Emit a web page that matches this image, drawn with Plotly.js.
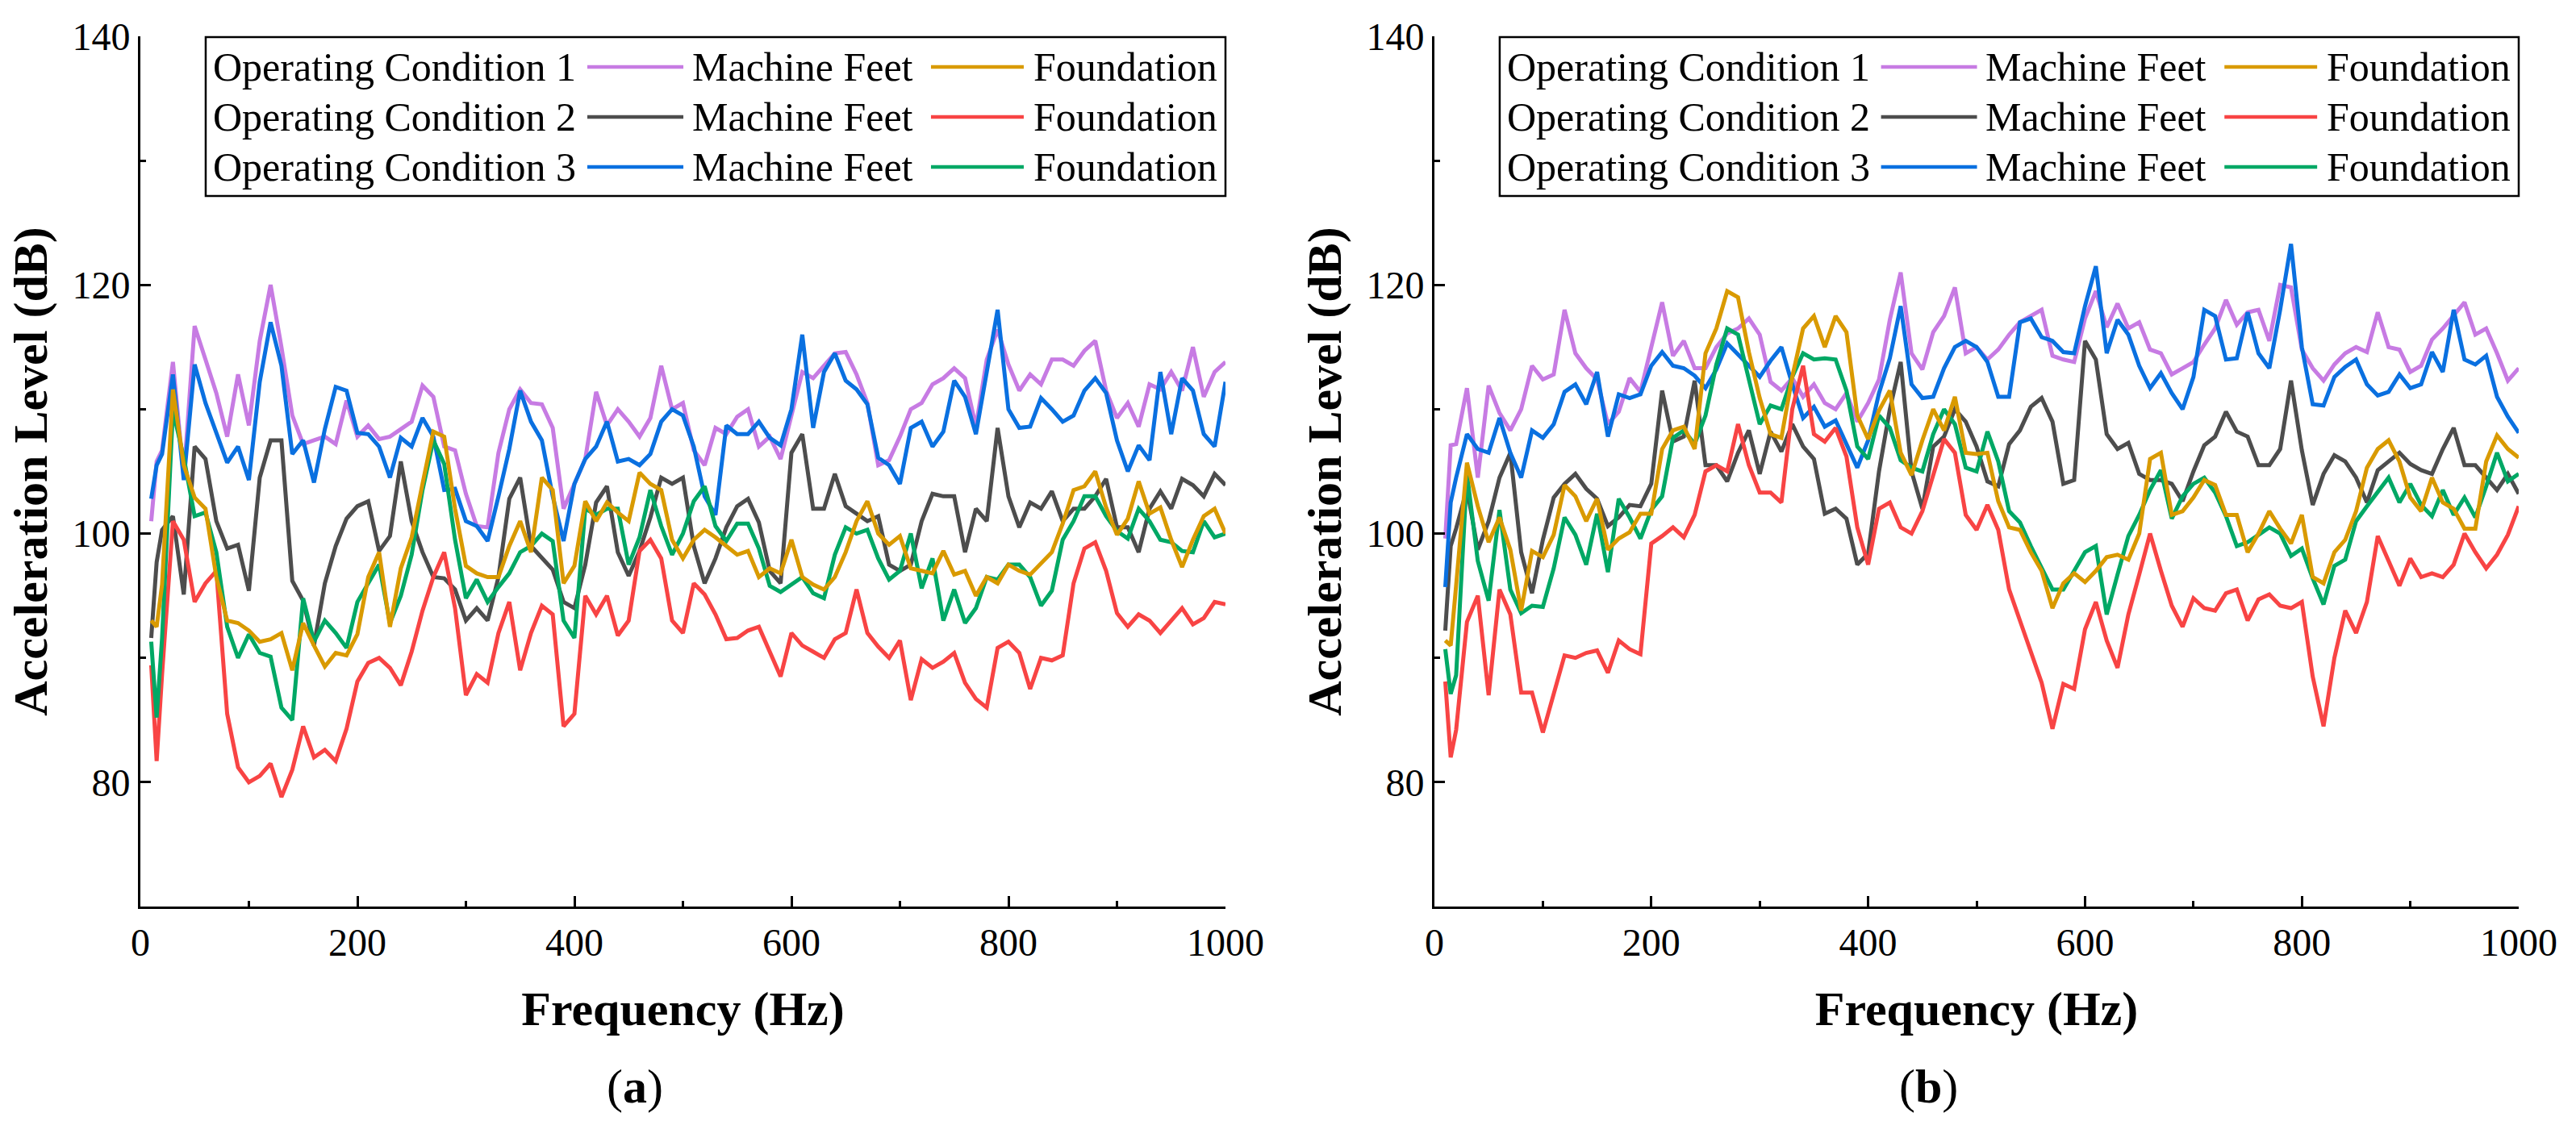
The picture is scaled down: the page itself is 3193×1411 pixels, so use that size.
<!DOCTYPE html>
<html>
<head>
<meta charset="utf-8">
<script src="https://cdn.plot.ly/plotly-3.0.1.min.js"></script>
<style>
  html, body { margin: 0; padding: 0; background: #fff; }
  #chart { width: 3193px; height: 1411px; }
</style>
</head>
<body>
<div id="chart"></div>
<script>
// Frequency grid (Hz) shared by every curve
const freq = [10, 15, 20, 30, 40, 50, 60, 70, 80, 90,
  100, 110, 120, 130, 140, 150, 160, 170, 180, 190,
  200, 210, 220, 230, 240, 250, 260, 270, 280, 290,
  300, 310, 320, 330, 340, 350, 360, 370, 380, 390,
  400, 410, 420, 430, 440, 450, 460, 470, 480, 490,
  500, 510, 520, 530, 540, 550, 560, 570, 580, 590,
  600, 610, 620, 630, 640, 650, 660, 670, 680, 690,
  700, 710, 720, 730, 740, 750, 760, 770, 780, 790,
  800, 810, 820, 830, 840, 850, 860, 870, 880, 890,
  900, 910, 920, 930, 940, 950, 960, 970, 980, 990, 1000];

// ---- panel (a) ----
const feetA1 = [101, 105.8, 106.7, 113.8, 104.6, 116.7, 114, 111.3, 107.8, 112.8,
  108.7, 115.5, 120, 115, 109.5, 107.2, 107.5, 107.8, 107.2, 110.7,
  107.8, 108.7, 107.6, 107.8, 108.4, 109, 111.9, 111, 107, 106.7,
  103.2, 100.6, 100.5, 106.5, 110, 111.6, 110.5, 110.4, 108.5, 102,
  104, 106, 111.4, 108.7, 110, 109, 107.8, 109.3, 113.5, 110,
  110.5, 106.7, 105.5, 108.5, 108, 109.4, 110, 107, 107.8, 106,
  109.5, 113, 112.5, 113.5, 114.5, 114.6, 112.8, 110.5, 105.5, 105.9,
  107.8, 110, 110.5, 112, 112.5, 113.3, 112.5, 108.6, 114, 116.4,
  113.6, 111.5, 112.8, 112, 114, 114, 113.5, 114.7, 115.5, 111.5,
  109.3, 110.5, 108.6, 112, 111.6, 113, 111.5, 115, 111, 113, 113.8];
const foundA1 = [93, 92.5, 95.9, 111.6, 105.5, 102.9, 102, 96.5, 93, 92.8,
  92.2, 91.3, 91.5, 92, 89, 92.8, 91, 89.3, 90.4, 90.2,
  91.9, 96.5, 98.5, 92.5, 97.2, 99.7, 104, 108.2, 107.8, 102,
  97.4, 96.8, 96.5, 96.5, 99, 101, 98.5, 104.5, 103.5, 96,
  97.4, 102.6, 101, 102.5, 101.7, 101, 104.9, 104, 103.5, 99.5,
  98, 99.5, 100.3, 99.7, 99, 98.3, 98.6, 96.5, 97.2, 96.8,
  99.5, 96.5, 95.9, 95.5, 96.5, 98.5, 101, 102.6, 100, 99.1,
  99.8, 97.2, 97, 96.8, 98.6, 96.7, 97, 95, 96.5, 96,
  97.5, 97, 96.7, 97.6, 98.5, 100.8, 103.5, 103.8, 105, 102.1,
  99.9, 101.2, 104.2, 101.6, 102.1, 99.5, 97.3, 99.5, 101.4, 102, 100];
const feetA2 = [91.6, 97.7, 100.3, 101.4, 95.1, 107, 106, 101, 98.8, 99.1,
  95.4, 104.5, 107.5, 107.5, 96.2, 94.6, 91, 96, 99, 101.2,
  102.2, 102.6, 98.6, 99.8, 105.8, 101, 98.5, 96.5, 96.4, 95.5,
  93, 94, 93, 96.5, 102.8, 104.5, 99, 98, 97.1, 94.5,
  94, 97.5, 102.5, 103.8, 98.5, 96.6, 98.6, 101.3, 104.5, 104,
  104.5, 99, 96, 98, 100.5, 102.2, 102.8, 100.9, 97, 96,
  106.5, 108, 102, 102, 104.8, 102.2, 101.6, 101, 101.4, 97.5,
  97, 97.5, 101, 103.2, 103, 103, 98.5, 102, 101, 108.5,
  103, 100.5, 102.5, 102, 103.4, 101, 102, 102, 103, 104.4,
  100.5, 100.5, 98.5, 102, 103.4, 102, 104.4, 103.9, 103, 104.8, 103.9];
const foundA2 = [89.4, 81.7, 88.7, 101, 99.5, 94.5, 96, 97, 85.5, 81.2,
  80, 80.5, 81.5, 78.8, 81, 84.5, 82, 82.6, 81.7, 84.3,
  88.1, 89.6, 90, 89.2, 87.8, 90.5, 93.8, 96.5, 98.5, 94,
  87, 88.7, 88, 92, 94.5, 89, 92, 94.2, 93.5, 84.5,
  85.5, 95, 93.5, 95, 91.8, 93, 98.6, 99.5, 98, 93,
  92, 96, 95.1, 93.5, 91.5, 91.6, 92.2, 92.5, 90.5, 88.5,
  92, 91, 90.5, 90, 91.5, 92, 95.5, 92, 90.9, 90,
  91.4, 86.6, 89.9, 89.2, 89.7, 90.4, 88, 86.7, 86, 90.8,
  91.3, 90.4, 87.5, 90, 89.8, 90.2, 96, 98.8, 99.3, 97,
  93.6, 92.5, 93.5, 93, 92, 93, 94, 92.7, 93.2, 94.5, 94.3];
const feetA3 = [102.8, 105.5, 106.4, 112.8, 104.3, 113.6, 110.5, 108.2, 105.7, 107,
  104.3, 112.2, 117, 113.5, 106.4, 107.5, 104.1, 108.4, 111.8, 111.5,
  108.1, 108, 107, 104.5, 107.7, 107, 109.3, 107.8, 103.5, 103.6,
  101, 100.6, 99.4, 103, 106.8, 111.5, 109, 107.5, 103, 99.4,
  104, 106, 107, 109, 105.8, 106, 105.5, 106.4, 109, 110,
  109.5, 107, 103, 101.5, 108.7, 108, 108, 109, 107.7, 107.1,
  110, 116, 108.5, 113, 114.5, 112.3, 111.6, 110.4, 106.1, 105.5,
  104, 108.5, 109, 107, 108.2, 112.3, 111, 108, 113, 118,
  110, 108.5, 108.6, 110.9, 110, 109, 109.5, 111.5, 112.5, 111.3,
  107.5, 105, 107.1, 105.9, 113, 108, 112.5, 111.5, 108, 107, 112.2];
const foundA3 = [91.3, 85.2, 91.6, 109.9, 106.1, 101.4, 101.7, 98.5, 92.5, 90,
  91.9, 90.4, 90.1, 86, 85, 94.8, 91.3, 93, 92, 90.8,
  94.5, 96, 97.5, 92.8, 95, 98.3, 103.5, 107.5, 105.6, 99.5,
  94.8, 96.3, 94.5, 95.7, 96.8, 98.5, 99, 100, 99.4, 93,
  91.6, 102, 101.5, 102, 102, 97.5, 99.7, 103.5, 100.6, 98.3,
  100, 102.6, 103.8, 100.6, 99.4, 100.8, 100.8, 98.8, 95.8, 95.3,
  95.9, 96.5, 95.2, 94.8, 98.3, 100.5, 100, 100.3, 98, 96.3,
  97, 100, 95.6, 98, 93, 95.5, 92.8, 94, 96.5, 96.3,
  97.5, 97.5, 96.5, 94.2, 95.4, 99.5, 101, 103, 103, 101.4,
  100.2, 99.6, 102, 101, 99.5, 99.3, 98.6, 98.5, 101, 99.7, 100];

// ---- panel (b) ----
const feetB1 = [99.6, 107.1, 107.2, 111.7, 104.5, 111.9, 109.7, 108.3, 110, 113.5,
  112.4, 112.8, 118, 114.5, 113.3, 112.4, 108.8, 109.8, 112.5, 111.4,
  115, 118.6, 114.3, 115.5, 113.3, 113.3, 115, 116.1, 116.5, 117.3,
  116, 112.2, 111.5, 112.5, 111, 112, 110.5, 110, 111.3, 109,
  110.5, 112.4, 117.2, 121, 114.5, 113.2, 116.2, 117.5, 119.8, 114.5,
  115, 114, 114.8, 116, 117, 117.5, 118, 114.3, 114, 113.8,
  117.3, 119.5, 116.6, 118.5, 116.5, 117, 114.8, 114.5, 112.8, 113.3,
  113.8, 115.2, 116.5, 118.8, 116.8, 117.8, 118, 115.5, 120, 119.8,
  114.8, 113.3, 112.3, 113.6, 114.5, 115, 114.6, 117.8, 115, 114.8,
  113, 113.5, 115.6, 116.5, 117.5, 118.6, 116, 116.5, 114.5, 112.3, 113.3];
const foundB1 = [91.4, 91, 95.8, 105.7, 102.2, 99.3, 101.3, 98.7, 93.8, 98.6,
  98.1, 99.9, 103.9, 103, 101, 102.8, 98.7, 99.6, 100.1, 101.6,
  101.6, 106.8, 108.3, 108.6, 106.8, 114.5, 116.5, 119.5, 119, 114.6,
  110.9, 108, 107.7, 112.6, 116.5, 117.5, 115, 117.5, 116.2, 109.5,
  107.6, 109.9, 111.5, 106.5, 104.7, 107.5, 110, 108.3, 111, 106.5,
  106.4, 106.5, 102.6, 100.5, 100.3, 98.5, 97, 94, 96, 96.8,
  96.1, 97, 98.1, 98.3, 97.9, 100, 106, 106.5, 101.5, 101.8,
  102.9, 104.3, 103.9, 101.5, 101.5, 98.5, 100, 101.8, 100.4, 99.2,
  101.5, 96.5, 96, 98.5, 99.5, 101.8, 105.3, 106.8, 107.5, 105.8,
  102.9, 101.8, 104.5, 102.5, 102, 100.4, 100.4, 105.8, 107.9, 106.8, 106.1];
const feetB2 = [92.2, 99, 100.4, 103.6, 98.7, 101, 104.5, 106.5, 98.5, 95.2,
  99.5, 102.9, 104, 104.8, 103.6, 102.8, 100.6, 101.3, 102.3, 102.2,
  104, 111.5, 107.4, 107.8, 112.3, 105.5, 105.5, 104.2, 106.5, 108.3,
  104.8, 108.2, 106.6, 108.8, 107, 106, 101.6, 102, 101.2, 97.5,
  98.4, 105, 110, 113.8, 105, 102, 107, 107.8, 110, 109,
  107, 104.2, 103.8, 107.2, 108.3, 110.2, 110.9, 109, 104, 104.3,
  115.5, 114, 108, 106.8, 107.3, 104.8, 104.3, 104.3, 104, 102.6,
  105, 107.1, 107.8, 109.8, 108.2, 107.8, 105.5, 105.5, 106.8, 112.3,
  106.7, 102.3, 104.8, 106.3, 105.8, 104.5, 102.5, 105.1, 105.8, 106.5,
  105.6, 105.1, 104.8, 106.8, 108.5, 105.5, 105.5, 104.5, 103.5, 104.8, 103.2];
const foundB2 = [88.1, 82, 84.2, 92.9, 95, 87, 95.5, 93.5, 87.2, 87.2,
  84, 87.1, 90.2, 90, 90.4, 90.6, 88.8, 91.4, 90.7, 90.3,
  99.2, 99.8, 100.5, 99.7, 101.5, 105, 105.5, 105, 108.8, 105.5,
  103.3, 103.3, 102.5, 110, 113.5, 108, 107.4, 108.5, 106.2, 100.5,
  97.5, 102, 102.5, 100.5, 100, 101.8, 104.8, 107.6, 106.5, 101.5,
  100.3, 102.3, 100.3, 95.5, 93, 90.5, 88, 84.3, 87.9, 87.5,
  92.3, 94.5, 91.4, 89.2, 93.5, 96.7, 100, 97, 94.2, 92.5,
  94.8, 94, 93.8, 95.2, 95.5, 93, 94.7, 95.1, 94.2, 94,
  94.5, 88.5, 84.5, 90, 93.8, 92, 94.5, 99.8, 97.7, 95.8,
  98, 96.5, 96.8, 96.5, 97.5, 100, 98.5, 97.2, 98.3, 99.9, 102.2];
const feetB3 = [95.7, 102.5, 104.5, 108, 106.8, 106.5, 109.3, 106.5, 104.5, 108.3,
  107.7, 108.8, 111.4, 112, 110.4, 113, 107.8, 111.2, 110.9, 111.2,
  113.5, 114.6, 113.5, 113.3, 112.7, 111.7, 113.2, 115.3, 114.4, 113.5,
  112.6, 113.9, 115, 112, 109.3, 110.2, 108.6, 109.1, 107.1, 105.3,
  107.5, 111.3, 114.1, 118.3, 112, 110.9, 111, 113.3, 115, 115.5,
  115, 113.8, 111, 111, 117, 117.3, 115.8, 115.5, 114.6, 114.5,
  118.3, 121.5, 114.5, 117.2, 116, 113.5, 111.7, 112.9, 111.3, 110,
  112.6, 118, 117.5, 114, 114.1, 117.8, 114.5, 113.3, 118, 123.3,
  115, 110.4, 110.3, 112.6, 113.4, 114, 112, 111.1, 111.4, 112.8,
  111.7, 112, 114.6, 113, 118, 114, 113.6, 114.3, 111, 109.4, 108.1];
const foundB3 = [90.7, 87.1, 88.6, 104.8, 97.8, 94.6, 101.9, 95.5, 93.6, 94.2,
  94.1, 97.2, 101.3, 99.9, 97.5, 101.6, 96.9, 102.8, 101.3, 99.6,
  101.9, 103, 107.7, 108.3, 107.2, 109.5, 113.6, 116.5, 116, 112.3,
  108.8, 110.3, 110, 112.6, 114.5, 114, 114.1, 114, 111.5, 107,
  106, 109.5, 108.5, 105.9, 105.3, 105, 108, 110, 108.8, 105.3,
  105, 108.2, 105.8, 101.8, 100.9, 99, 97.3, 95.5, 95.5, 97,
  98.5, 99, 93.5, 96.7, 99.8, 101.5, 103.5, 105.1, 101.2, 103,
  104, 104.5, 103.3, 101.4, 99, 99.3, 99.9, 100.5, 100, 98.2,
  98.8, 96.4, 94.3, 97.4, 97.9, 101, 102.2, 103.3, 104.5, 102.5,
  104, 102.3, 101.4, 103.5, 101.5, 102.9, 101.3, 103.8, 106.5, 104.2, 104.8];

const conditionLabels = ['Operating Condition 1', 'Operating Condition 2', 'Operating Condition 3'];
const feetColors = ['#c77be3', '#4d4d4d', '#0a70e0'];
const foundColors = ['#d99a00', '#f84444', '#00a865'];
const panelLabels = ['(<b>a</b>)', '(<b>b</b>)'];

const SERIF = 'Liberation Serif, Times New Roman, serif';

const panels = [
  { ax: '', feet: [feetA1, feetA2, feetA3], found: [foundA1, foundA2, foundA3] },
  { ax: '2', feet: [feetB1, feetB2, feetB3], found: [foundB1, foundB2, foundB3] }
];

// 1. Traces: feet curves first, foundation curves on top (gold last)
const traces = [];
panels.forEach(p => {
  const xa = 'x' + p.ax, ya = 'y' + p.ax;
  const line = (y, color) => ({
    x: freq, y: y, xaxis: xa, yaxis: ya,
    type: 'scatter', mode: 'lines',
    line: { color: color, width: 5 },
    hoverinfo: 'skip'
  });
  [0, 1, 2].forEach(i => traces.push(line(p.feet[i], feetColors[i])));
  [1, 2, 0].forEach(i => traces.push(line(p.found[i], foundColors[i])));
});

// 2. Axes
const xAxis = (domain, anchor) => ({
  domain: domain, anchor: anchor,
  range: [0, 1000], tick0: 0, dtick: 200,
  ticks: 'inside', ticklen: 13, tickwidth: 3, tickcolor: '#000',
  minor: { dtick: 100, ticks: 'inside', ticklen: 7, tickwidth: 3, tickcolor: '#000', showgrid: false },
  showline: true, linewidth: 3, linecolor: '#000',
  showgrid: false, zeroline: false, fixedrange: true,
  tickfont: { family: SERIF, size: 48, color: '#000' },
  title: { text: '<b>Frequency (Hz)</b>', font: { family: SERIF, size: 60, color: '#000' }, standoff: 36 }
});
const yAxis = (anchor) => ({
  domain: [0, 1], anchor: anchor,
  range: [70, 140], tick0: 0, dtick: 20,
  ticks: 'inside', ticklen: 13, tickwidth: 3, tickcolor: '#000',
  minor: { dtick: 10, ticks: 'inside', ticklen: 7, tickwidth: 3, tickcolor: '#000', showgrid: false },
  showline: true, linewidth: 3, linecolor: '#000',
  showgrid: false, zeroline: false, fixedrange: true,
  tickfont: { family: SERIF, size: 48, color: '#000' },
  title: { text: '<b>Acceleration Level (dB)</b>', font: { family: SERIF, size: 60, color: '#000' }, standoff: 12 }
});

// 3. Legend box, drawn per panel in axis-domain units
const rowY = [0.9648, 0.9073, 0.8499];
const shapes = [];
const annotations = [];
panels.forEach((p, k) => {
  const xr = 'x' + p.ax + ' domain', yr = 'y' + p.ax + ' domain';
  shapes.push({ type: 'rect', xref: xr, yref: yr, x0: 0.0602, x1: 1, y0: 0.8165, y1: 0.999,
    line: { color: '#000', width: 2.5 }, fillcolor: 'rgba(0,0,0,0)' });
  rowY.forEach((y, i) => {
    shapes.push({ type: 'line', xref: xr, yref: yr, x0: 0.4119, x1: 0.5004, y0: y, y1: y,
      line: { color: feetColors[i], width: 4.5 } });
    shapes.push({ type: 'line', xref: xr, yref: yr, x0: 0.7286, x1: 0.8141, y0: y, y1: y,
      line: { color: foundColors[i], width: 4.5 } });
    const txt = (x, text) => ({ xref: xr, yref: yr, x: x, y: y, xanchor: 'left', yanchor: 'middle',
      text: text, showarrow: false, font: { family: SERIF, size: 50, color: '#000' } });
    annotations.push(txt(0.0655, conditionLabels[i]));
    annotations.push(txt(0.5068, 'Machine Feet'));
    annotations.push(txt(0.8213, 'Foundation'));
  });
  annotations.push({ xref: xr, yref: yr, x: 0.456, y: -0.2067, xanchor: 'center', yanchor: 'middle',
    text: panelLabels[k], showarrow: false, font: { family: SERIF, size: 60, color: '#000' } });
});

const layout = {
  width: 3193, height: 1411,
  margin: { l: 174, r: 71, t: 45, b: 287 },
  paper_bgcolor: '#fff', plot_bgcolor: '#fff',
  showlegend: false,
  font: { family: SERIF, color: '#000' },
  xaxis: xAxis([0, 0.45624], 'y'),
  yaxis: yAxis('x'),
  xaxis2: xAxis([0.5441, 1], 'y2'),
  yaxis2: yAxis('x2'),
  shapes: shapes,
  annotations: annotations
};

Plotly.newPlot('chart', traces, layout, { displayModeBar: false, staticPlot: true });
</script>
</body>
</html>
